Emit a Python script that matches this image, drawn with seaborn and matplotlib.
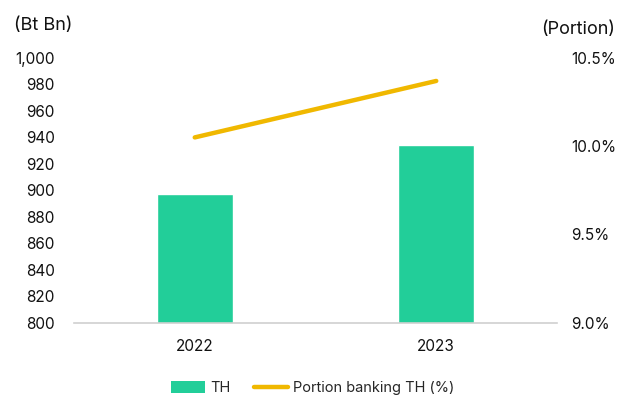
import matplotlib
matplotlib.use("Agg")
import matplotlib.pyplot as plt
import seaborn as sns
import pandas as pd
from matplotlib.ticker import FuncFormatter
from matplotlib.lines import Line2D
from matplotlib.patches import Patch

years = ["2022", "2023"]
th_values = [897, 934]          # Bt Bn
portion_pct = [10.05, 10.37]    # %

left_ticks = list(range(800, 1001, 20))
right_ticks = [9.0, 9.5, 10.0, 10.5]

bar_color = "#22CE99"
line_color = "#F0B800"
text_color = "#111111"

sns.set_theme(style="white")
plt.rcParams["font.family"] = ["Inter", "DejaVu Sans"]

df = pd.DataFrame({"year": years, "TH": th_values, "portion": portion_pct})

fig = plt.figure(figsize=(6.26, 4.03), dpi=100)
ax = fig.add_axes([74 / 626, 1 - 322.7 / 403, (557 - 74) / 626, (322.7 - 58) / 403])

sns.barplot(data=df, x="year", y="TH", color=bar_color, width=0.315,
            saturation=1, ax=ax)
ax.set_ylim(800, 1000)
ax.set_xlim(-0.5, 1.5)
ax.set_yticks(left_ticks)
ax.yaxis.set_major_formatter(FuncFormatter(lambda v, p: f"{int(v):,}"))
ax.set_xlabel("")
ax.set_ylabel("")
ax.tick_params(axis="y", length=0, pad=14, labelsize=11, colors=text_color)
ax.tick_params(axis="x", length=0, pad=12, labelsize=11, colors=text_color)
for s in ["top", "left", "right"]:
    ax.spines[s].set_visible(False)
ax.spines["bottom"].set_color("#d0d0d0")
ax.spines["bottom"].set_linewidth(1.2)

ax2 = ax.twinx()
sns.lineplot(x=[0, 1], y=df["portion"], color=line_color, linewidth=3.2,
             ax=ax2, solid_capstyle="round")
ax2.set_ylim(9.0, 10.5)
ax2.set_yticks(right_ticks)
ax2.yaxis.set_major_formatter(FuncFormatter(lambda v, p: f"{v:.1f}%"))
ax2.set_ylabel("")
ax2.tick_params(axis="y", length=0, pad=10, labelsize=11, colors=text_color)
for s in ["top", "left", "right", "bottom"]:
    ax2.spines[s].set_visible(False)

fig.text(14 / 626, 1 - 25 / 403, "(Bt Bn)", fontsize=13, va="center", ha="left", color=text_color)
fig.text(615 / 626, 1 - 30 / 403, "(Portion)", fontsize=13, va="center", ha="right", color=text_color)

handles = [Patch(facecolor=bar_color, edgecolor="none"),
           Line2D([0], [0], color=line_color, linewidth=3.2)]
fig.legend(handles, ["TH", "Portion banking TH (%)"], loc="center",
           bbox_to_anchor=(0.5, 1 - 388 / 403), ncol=2, frameon=False,
           fontsize=10.5, handlelength=2.3, handleheight=0.8, columnspacing=1.6,
           handletextpad=0.4)

fig.savefig("out.png", dpi=100)
